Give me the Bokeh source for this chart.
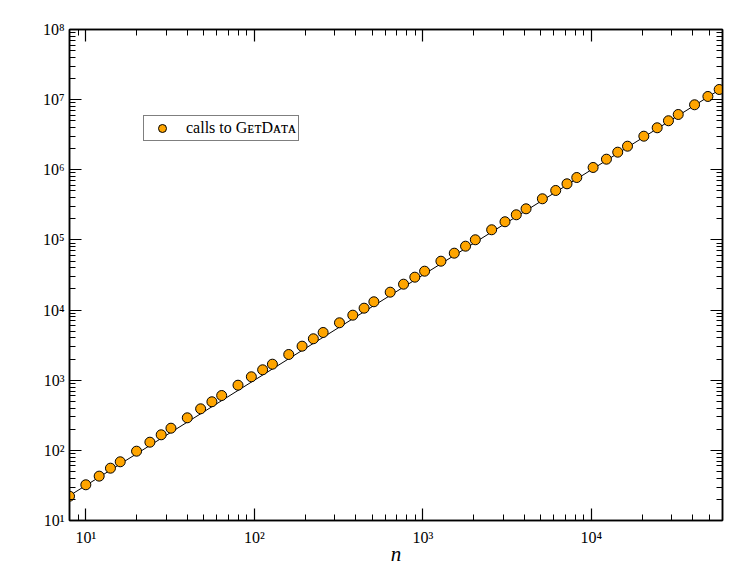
from bokeh.plotting import figure
from bokeh.models import (LogAxis, FixedTicker, CustomJSTickFormatter, Legend,
                          LegendItem, Range1d, ColumnDataSource)
from bokeh.embed import file_html
from bokeh.resources import INLINE

# ---- data ----
n_values = [8, 10, 12, 14, 16, 20, 24, 28, 32, 40, 48, 56, 64, 80, 96, 112,
            128, 160, 192, 224, 256, 320, 384, 448, 512, 640, 768, 896, 1024,
            1280, 1536, 1792, 2048, 2560, 3072, 3584, 4096, 5120, 6144, 7168,
            8192, 10240, 12288, 14336, 16384, 20480, 24576, 28672, 32768,
            40960, 49152, 57344]
calls = [22.2, 32.3, 42.9, 55.7, 68.7, 97.3, 130.7, 166.6, 207, 291, 391, 493,
         605, 849, 1119, 1408, 1692, 2327, 3057, 3897, 4791, 6588, 8458, 10640,
         13130, 17990, 23390, 29440, 35830, 49760, 64730, 81430, 100500,
         139600, 181600, 228300, 277800, 386000, 507000, 631000, 776000,
         1079000, 1416000, 1782000, 2169000, 3012000, 3970000, 5000000,
         6142000, 8451000, 11100000, 13960000]
fit_n = [8, 60000]
fit_calls = [22.6, 14700000]

x_major = [10, 100, 1000, 10000]
y_major = [10, 100, 1000, 10000, 100000, 1000000, 10000000, 100000000]
series_label = "calls to G\u1d07\u1d1bD\u1d00\u1d1b\u1d00"
x_label = "n"

x_minor = [m * 10 ** e for e in range(0, 5) for m in range(2, 10)]
y_minor = [m * 10 ** e for e in range(1, 8) for m in range(2, 10)]

FONT = "'Liberation Serif', 'Times New Roman', serif"

p = figure(width=740, height=570, x_axis_type="log", y_axis_type="log",
           x_range=Range1d(8, 60000), y_range=Range1d(10, 1e8),
           output_backend="svg", toolbar_location=None,
           min_border_left=69, min_border_right=18, min_border_top=29,
           min_border_bottom=50)
p.xgrid.visible = False
p.ygrid.visible = False
p.outline_line_color = "black"
p.outline_line_width = 1.5
p.background_fill_color = "white"

fmt = CustomJSTickFormatter(code="""
const sup = {'0':'\u2070','1':'\u00b9','2':'\u00b2','3':'\u00b3','4':'\u2074',
             '5':'\u2075','6':'\u2076','7':'\u2077','8':'\u2078','9':'\u2079','-':'\u207b'};
const e = Math.round(Math.log10(tick));
return '10' + String(e).split('').map(c => sup[c]).join('');
""")

xt = FixedTicker(ticks=x_major, minor_ticks=x_minor)
yt = FixedTicker(ticks=y_major, minor_ticks=y_minor)


def style(ax, labels=True):
    ax.axis_line_color = "black"
    ax.axis_line_width = 1.5
    ax.major_tick_in = 12
    ax.major_tick_out = 0
    ax.minor_tick_in = 6
    ax.minor_tick_out = 0
    ax.major_tick_line_color = "black"
    ax.minor_tick_line_color = "black"
    ax.major_tick_line_width = 1.2
    ax.minor_tick_line_width = 1
    ax.major_label_text_font = FONT
    ax.formatter = fmt
    if labels:
        ax.major_label_text_font_size = "16px"
        ax.major_label_text_color = "black"
    else:
        ax.major_label_text_font_size = "4px"
        ax.major_label_text_color = None
        ax.major_label_standoff = 0


p.xaxis.ticker = xt
p.yaxis.ticker = yt
for ax in p.xaxis:
    style(ax)
    ax.major_label_standoff = 8
    ax.axis_label = x_label
    ax.axis_label_text_font = FONT
    ax.axis_label_text_font_style = "italic"
    ax.axis_label_text_font_size = "21px"
    ax.axis_label_text_color = "black"
    ax.axis_label_standoff = -7
for ax in p.yaxis:
    style(ax)
    ax.major_label_standoff = 5

top = LogAxis(ticker=xt)
style(top, labels=False)
p.add_layout(top, "above")
right = LogAxis(ticker=yt)
style(right, labels=False)
p.add_layout(right, "right")

p.line(fit_n, fit_calls, line_color="black", line_width=1)
src = ColumnDataSource(dict(n=n_values, calls=calls))
pts = p.scatter("n", "calls", source=src, size=10, fill_color="#FFA500",
                line_color="black", line_width=1)

legend = Legend(items=[LegendItem(label=series_label, renderers=[pts])],
                location=(74, 379), padding=2, spacing=0, margin=0,
                glyph_width=32, glyph_height=20, label_standoff=8,
                label_text_font=FONT, label_text_font_size="16px",
                label_text_color="black", label_height=20,
                border_line_color="black", border_line_width=1,
                background_fill_color="white", background_fill_alpha=1)
p.add_layout(legend)

open("out.html", "w").write(file_html(p, INLINE))
